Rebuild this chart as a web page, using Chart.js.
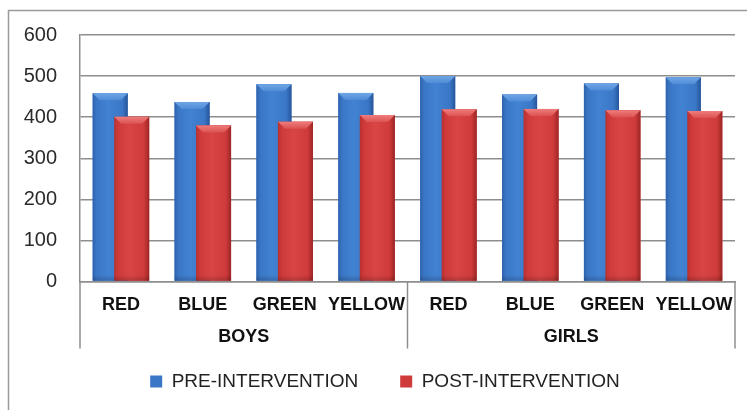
<!DOCTYPE html>
<html>
<head>
<meta charset="utf-8">
<script src="https://cdn.jsdelivr.net/npm/chart.js@4/dist/chart.umd.min.js"></script>
<style>
  html, body { margin: 0; padding: 0; background: #ffffff; }
  #wrap { width: 747px; height: 410px; position: relative; }
</style>
</head>
<body>
<div id="wrap"><canvas id="chart"></canvas></div>
<script>
// Team colours within each group of pupils
const categories = ['RED', 'BLUE', 'GREEN', 'YELLOW', 'RED', 'BLUE', 'GREEN', 'YELLOW'];
const groupNames = ['BOYS', 'GIRLS'];
const groupSize = 4;

// Scores before and after the intervention
const seriesNames = ['PRE-INTERVENTION', 'POST-INTERVENTION'];
const preIntervention = [458, 437, 480, 459, 500, 455, 482, 497];
const postIntervention = [401, 380, 389, 405, 419, 420, 417, 415];

// Value axis
const yTicks = [0, 100, 200, 300, 400, 500, 600];

const GRID = '#8e8e8e';
const FONT = '"Liberation Sans", Arial, sans-serif';

// Shading for the bevelled columns
const shades = [
  { base: '#3a77c6', edgeL: '#2e63ad', edgeR: '#27559a', mid: '#4282d2', top: '#6fa6e6', topEdge: '#4f8bd6' },
  { base: '#cf3a3a', edgeL: '#b83030', edgeR: '#9c2626', mid: '#d94545', top: '#ef7c7c', topEdge: '#dc5252' }
];

// Paint each column with a horizontal gradient and a lighter top facet;
// datasets are painted in order so the post-intervention column sits in front.
const bevelBars = {
  id: 'bevelBars',
  afterDatasetsDraw(chart) {
    const ctx = chart.ctx;
    ctx.save();
    chart.data.datasets.forEach((ds, di) => {
      const meta = chart.getDatasetMeta(di);
      if (meta.hidden) return;
      const sh = shades[di];
      meta.data.forEach(bar => {
        const p = bar.getProps(['x', 'y', 'base', 'width'], true);
        const l = p.x - p.width / 2, r = p.x + p.width / 2;
        const top = Math.min(p.y, p.base), bot = Math.max(p.y, p.base);
        const g = ctx.createLinearGradient(l, 0, r, 0);
        g.addColorStop(0, sh.edgeL);
        g.addColorStop(0.12, sh.base);
        g.addColorStop(0.45, sh.mid);
        g.addColorStop(0.85, sh.base);
        g.addColorStop(1, sh.edgeR);
        ctx.fillStyle = g;
        ctx.fillRect(l, top, p.width, bot - top);
        // darker foot of the column
        const fg = ctx.createLinearGradient(0, bot - 6, 0, bot);
        fg.addColorStop(0, 'rgba(0,0,0,0)');
        fg.addColorStop(1, 'rgba(0,0,0,0.18)');
        ctx.fillStyle = fg;
        ctx.fillRect(l, bot - 6, p.width, 6);
        // top facet
        const b = Math.min(7, p.width * 0.2);
        const tg = ctx.createLinearGradient(0, top, 0, top + b);
        tg.addColorStop(0, sh.top);
        tg.addColorStop(1, sh.topEdge);
        ctx.fillStyle = tg;
        ctx.beginPath();
        ctx.moveTo(l, top);
        ctx.lineTo(r, top);
        ctx.lineTo(r - b, top + b);
        ctx.lineTo(l + b, top + b);
        ctx.closePath();
        ctx.fill();
      });
    });
    ctx.restore();
  }
};

// Second tier of the category axis: group names with separators
const groupAxis = {
  id: 'groupAxis',
  afterDraw(chart) {
    const ctx = chart.ctx;
    const xs = chart.scales.x;
    const step = xs.width / categories.length;
    const lineTop = xs.top;
    const lineBottom = xs.top + 67;
    ctx.save();
    ctx.strokeStyle = GRID;
    ctx.lineWidth = 1.5;
    const edges = new Set();
    groupNames.forEach((name, gi) => {
      const first = gi * groupSize, last = first + groupSize - 1;
      const left = xs.getPixelForValue(first) - step / 2;
      const right = xs.getPixelForValue(last) + step / 2;
      edges.add(Math.round(left * 2) / 2);
      edges.add(Math.round(right * 2) / 2);
      ctx.fillStyle = '#111';
      ctx.font = 'bold 18px ' + FONT;
      ctx.textAlign = 'center';
      ctx.textBaseline = 'middle';
      ctx.fillText(name, (left + right) / 2, xs.top + 56);
    });
    edges.forEach(x => {
      ctx.beginPath();
      ctx.moveTo(x, lineTop);
      ctx.lineTo(x, lineBottom);
      ctx.stroke();
    });
    ctx.restore();
  }
};

// Outer frame of the chart object
const frame = {
  id: 'frame',
  beforeDraw(chart) {
    const ctx = chart.ctx;
    ctx.save();
    ctx.strokeStyle = '#9a9a9a';
    ctx.lineWidth = 1.5;
    ctx.beginPath();
    ctx.moveTo(8.5, chart.height);
    ctx.lineTo(8.5, 10.5);
    ctx.lineTo(chart.width, 10.5);
    ctx.stroke();
    ctx.restore();
  }
};

new Chart(document.getElementById('chart'), {
  type: 'bar',
  data: {
    labels: categories,
    datasets: [
      { label: seriesNames[0], data: preIntervention, backgroundColor: shades[0].base, borderWidth: 0,
        categoryPercentage: 0.525, barPercentage: 1.63 },
      { label: seriesNames[1], data: postIntervention, backgroundColor: shades[1].base, borderWidth: 0,
        categoryPercentage: 0.525, barPercentage: 1.63 }
    ]
  },
  options: {
    responsive: true,
    maintainAspectRatio: false,
    animation: false,
    layout: { padding: { top: 35, right: 0, left: 23, bottom: 18 } },
    plugins: {
      tooltip: { enabled: false },
      legend: {
        position: 'bottom',
        maxHeight: 62,
        labels: {
          boxWidth: 12,
          boxHeight: 12,
          padding: 42,
          color: '#222',
          font: { family: FONT, size: 19 }
        }
      }
    },
    scales: {
      x: {
        type: 'category',
        offset: true,
        grid: { display: false },
        border: { display: true, color: GRID, width: 1.5 },
        ticks: {
          padding: 5,
          maxRotation: 0,
          autoSkip: false,
          color: '#111',
          font: { family: FONT, size: 18, weight: 'bold' }
        },
        afterFit(scale) { scale.height = 48.5; }
      },
      y: {
        min: yTicks[0],
        max: yTicks[yTicks.length - 1],
        afterBuildTicks(scale) { scale.ticks = yTicks.map(v => ({ value: v })); },
        grid: { color: GRID, lineWidth: 1.5, drawTicks: false },
        border: { display: true, color: GRID, width: 1.5 },
        ticks: {
          padding: 23,
          color: '#2a2a2a',
          font: { family: FONT, size: 20 }
        },
        afterFit(scale) { scale.width = 57; }
      },
      // empty margin to the right of the plot
      yRight: {
        type: 'linear',
        position: 'right',
        grid: { display: false, drawTicks: false },
        border: { display: false },
        ticks: { display: false },
        afterFit(scale) { scale.width = 12; }
      }
    }
  },
  plugins: [frame, bevelBars, groupAxis]
});
</script>
</body>
</html>
